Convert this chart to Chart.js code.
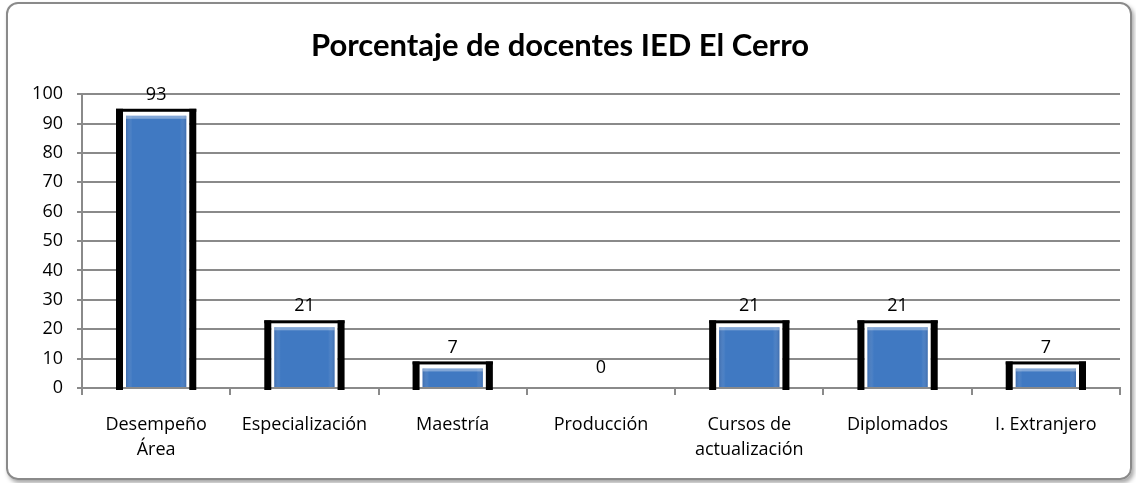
<!DOCTYPE html>
<html>
<head>
<meta charset="utf-8">
<script src="https://cdn.jsdelivr.net/npm/chart.js@4.4.1/dist/chart.umd.min.js"></script>
<style>
  html, body { margin: 0; padding: 0; background: #fff; }
  #wrap { position: relative; width: 1136px; height: 483px; }
  #marco {
    position: absolute; left: 6px; top: 2px; width: 1122px; height: 474px;
    border: 2px solid #8a8a8a; border-radius: 12px;
    box-shadow: 2px 3px 4px rgba(0,0,0,0.35);
  }
  canvas { position: absolute; left: 0; top: 0; }
</style>
</head>
<body>
<div id="wrap">
  <div id="marco"></div>
  <canvas id="grafico" width="1136" height="483"></canvas>
</div>
<script>
// Datos del grafico
const categorias = [
  ["Desempeño", "Área"],
  "Especialización",
  "Maestría",
  "Producción",
  ["Cursos de", "actualización"],
  "Diplomados",
  "I. Extranjero"
];
const porcentajes = [93, 21, 7, 0, 21, 21, 7];
const titulo = "Porcentaje de docentes IED El Cerro";

const gris = "#8a8a8a";

// Marco negro alrededor de cada barra y etiquetas de valor
const marcoBarras = {
  id: "marcoBarras",
  beforeDatasetsDraw(chart) {
    const ctx = chart.ctx;
    const meta = chart.getDatasetMeta(0);
    ctx.save();
    meta.data.forEach(function (bar, i) {
      if (!porcentajes[i]) return;
      const p = bar.getProps(["x", "y", "base", "width"], true);
      const half = p.width / 2;
      // hueco blanco
      ctx.fillStyle = "#fff";
      ctx.fillRect(p.x - half - 2, p.y - 3, p.width + 4, p.base - p.y + 2);
      ctx.fillStyle = "#000";
      ctx.fillRect(p.x - half - 9, p.y - 6, 7, p.base - p.y + 9);
      ctx.fillRect(p.x + half + 2, p.y - 6, 7, p.base - p.y + 9);
      ctx.fillRect(p.x - half - 9, p.y - 6, p.width + 18, 3);
    });
    ctx.restore();
  },
  afterDatasetsDraw(chart) {
    const ctx = chart.ctx;
    const meta = chart.getDatasetMeta(0);
    ctx.save();
    meta.data.forEach(function (bar, i) {
      const p = bar.getProps(["x", "y", "width", "base"], true);
      // sombreado de los bordes de la barra
      if (porcentajes[i]) {
        const g = ctx.createLinearGradient(p.x - p.width / 2, 0, p.x + p.width / 2, 0);
        g.addColorStop(0, "rgba(20,50,110,0.35)");
        g.addColorStop(0.12, "rgba(255,255,255,0)");
        g.addColorStop(0.88, "rgba(255,255,255,0)");
        g.addColorStop(1, "rgba(20,50,110,0.35)");
        ctx.fillStyle = g;
        ctx.fillRect(p.x - p.width / 2 + 1, p.y + 1, p.width - 2, p.base - p.y - 1);
        ctx.fillStyle = "rgba(255,255,255,0.35)";
        ctx.fillRect(p.x - p.width / 2 + 1, p.y + 1, p.width - 2, 3);
      }
      ctx.fillStyle = "#000";
      ctx.font = "18px 'Open Sans'";
      ctx.textAlign = "center";
      ctx.textBaseline = "middle";
      ctx.fillText(String(porcentajes[i]), p.x, p.y - 20);
    });
    ctx.restore();
  }
};

new Chart(document.getElementById("grafico"), {
  type: "bar",
  data: {
    labels: categorias,
    datasets: [{
      data: porcentajes,
      backgroundColor: "#4079c2",
      borderColor: "#ffffff",
      borderWidth: 1,
      categoryPercentage: 1,
      barPercentage: 0.42
    }]
  },
  options: {
    responsive: false,
    animation: false,
    layout: { padding: { left: 0, right: 16, top: 0, bottom: 0 } },
    plugins: {
      legend: { display: false },
      tooltip: { enabled: false },
      title: {
        display: true,
        text: titulo,
        color: "#000",
        font: { family: "Lato", size: 31, weight: "bold" },
        padding: { top: 27, bottom: 30 }
      }
    },
    scales: {
      x: {
        grid: { display: true, drawOnChartArea: false, drawTicks: true, tickLength: 7, color: gris, lineWidth: 2 },
        border: { color: gris, width: 2 },
        ticks: {
          color: "#000",
          font: { family: "Open Sans", size: 18, lineHeight: 1.35 },
          padding: 18,
          maxRotation: 0
        },
        afterFit(scale) { scale.height = 95; }
      },
      y: {
        min: 0,
        max: 100,
        grid: { color: gris, lineWidth: 2, tickLength: 5 },
        border: { color: gris, width: 2 },
        ticks: {
          stepSize: 10,
          color: "#000",
          font: { family: "Open Sans", size: 18 },
          padding: 14
        },
        afterFit(scale) { scale.width = 82; }
      }
    }
  },
  plugins: [marcoBarras]
});
</script>
</body>
</html>
